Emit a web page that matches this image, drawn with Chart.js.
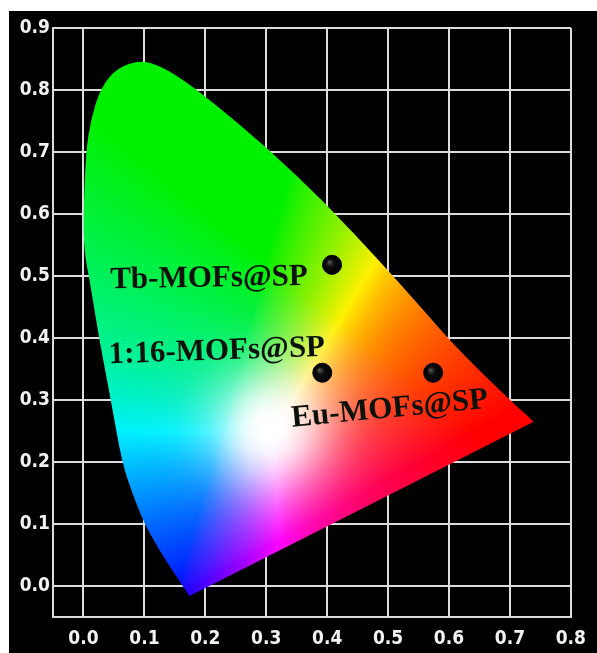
<!DOCTYPE html>
<html>
<head>
<meta charset="utf-8">
<script src="https://cdn.jsdelivr.net/npm/chart.js@4.4.0/dist/chart.umd.min.js"></script>
<style>
  html, body { margin: 0; padding: 0; background: #fff; }
  canvas { display: block; }
</style>
</head>
<body>
<canvas id="myChart" width="597" height="653"></canvas>
<script>
// tick values
const xTicks = [0.0, 0.1, 0.2, 0.3, 0.4, 0.5, 0.6, 0.7, 0.8];
const yTicks = [0.0, 0.1, 0.2, 0.3, 0.4, 0.5, 0.6, 0.7, 0.8, 0.9];

// outline of the colour region (blue corner -> left side -> top -> red corner)
const locusX = [0.174, 0.135, 0.100, 0.080, 0.063, 0.045, 0.026, 0.010, 0.001, 0.000, 0.004, 0.012, 0.028, 0.055, 0.094, 0.123, 0.155, 0.200, 0.300, 0.397, 0.489, 0.560, 0.611, 0.700, 0.739];
const locusY = [-0.016, 0.040, 0.100, 0.150, 0.200, 0.300, 0.397, 0.494, 0.540, 0.600, 0.700, 0.752, 0.803, 0.836, 0.848, 0.840, 0.822, 0.790, 0.708, 0.618, 0.521, 0.443, 0.385, 0.300, 0.265];

// samples
const sampleNames = ['Tb-MOFs@SP', '1:16-MOFs@SP', 'Eu-MOFs@SP'];
const sampleX = [0.408, 0.392, 0.574];
const sampleY = [0.518, 0.344, 0.344];

const gridColor = '#dcdcdc';
const tickFont = { family: '"DejaVu Sans Condensed", "DejaVu Sans", sans-serif', weight: 'bold', size: 19 };

function xyToRgb(x, y) {
    // chromaticity -> rough sRGB, shifted so the white spot sits where the picture has it
    const d2 = (x - 0.305) * (x - 0.305) + (y - 0.255) * (y - 0.255);
    const fade = Math.exp(-d2 / (0.085 * 0.085));
    y += 0.08;
    if (y < 0.01) y = 0.01;
    let X = x / y, Y = 1, Z = (1 - x - y) / y;
    let r = 3.2406 * X - 1.5372 * Y - 0.4986 * Z;
    let g = -0.9689 * X + 1.8758 * Y + 0.0415 * Z;
    let b = 0.0557 * X - 0.2040 * Y + 1.0570 * Z;
    r = Math.max(r, 0); g = Math.max(g, 0); b = Math.max(b, 0);
    let m = Math.max(r, g, b) || 1;
    return [r / m, g / m * 0.93, b / m].map(v => {
        v = v * (1 - fade) + fade;
        return Math.round(255 * Math.pow(v, 0.8));
    });
}

function locusPath(ctx, xs, ys) {
    let pts = locusX.map((v, i) => [xs.getPixelForValue(v), ys.getPixelForValue(locusY[i])]);
    ctx.beginPath();
    ctx.moveTo(pts[0][0], pts[0][1]);
    // smooth curve through the middle of each segment
    for (let i = 1; i < pts.length - 1; i++) {
        let mx = (pts[i][0] + pts[i + 1][0]) / 2;
        let my = (pts[i][1] + pts[i + 1][1]) / 2;
        ctx.quadraticCurveTo(pts[i][0], pts[i][1], mx, my);
    }
    ctx.lineTo(pts[pts.length - 1][0], pts[pts.length - 1][1]);
    ctx.closePath();
}

const backdrop = {
    id: 'backdrop',
    beforeDraw(chart) {
        const ctx = chart.ctx;
        ctx.save();
        ctx.fillStyle = '#ffffff';
        ctx.fillRect(0, 0, chart.width, chart.height);
        ctx.fillStyle = '#000000';
        ctx.fillRect(9, 11, chart.width - 9, chart.height - 11);
        ctx.restore();
    }
};

const colourRegion = {
    id: 'colourRegion',
    beforeDatasetsDraw(chart) {
        const ctx = chart.ctx;
        const area = chart.chartArea;
        const xs = chart.scales.x, ys = chart.scales.y;
        const w = Math.ceil(area.right - area.left), h = Math.ceil(area.bottom - area.top);
        const off = document.createElement('canvas');
        off.width = w; off.height = h;
        const octx = off.getContext('2d');
        const img = octx.createImageData(w, h);
        for (let py = 0; py < h; py++) {
            const yv = ys.getValueForPixel(area.top + py + 0.5);
            for (let px = 0; px < w; px++) {
                const xv = xs.getValueForPixel(area.left + px + 0.5);
                const [r, g, b] = xyToRgb(xv, yv);
                const k = (py * w + px) * 4;
                img.data[k] = r; img.data[k + 1] = g; img.data[k + 2] = b; img.data[k + 3] = 255;
            }
        }
        octx.putImageData(img, 0, 0);
        ctx.save();
        locusPath(ctx, xs, ys);
        ctx.clip();
        ctx.drawImage(off, area.left, area.top);
        ctx.restore();
    },
    afterDatasetsDraw(chart) {
        const ctx = chart.ctx;
        const meta = chart.getDatasetMeta(1);
        // little highlight on the black balls
        meta.data.forEach(pt => {
            ctx.save();
            const grd = ctx.createRadialGradient(pt.x - 3, pt.y - 3, 0, pt.x, pt.y, 9);
            grd.addColorStop(0, 'rgba(110,110,110,0.9)');
            grd.addColorStop(0.45, 'rgba(20,20,20,0.6)');
            grd.addColorStop(1, 'rgba(0,0,0,0)');
            ctx.fillStyle = grd;
            ctx.beginPath();
            ctx.arc(pt.x, pt.y, 8, 0, Math.PI * 2);
            ctx.fill();
            ctx.restore();
        });
        // sample names
        const place = [
            { dx: -24, dy: 20, align: 'right', rot: -1 },
            { dx: 3, dy: -17, align: 'right', rot: -2 },
            { dx: -141, dy: 54, align: 'left', rot: -5.5 }
        ];
        ctx.save();
        ctx.font = 'bold 31px "Liberation Serif", "Times New Roman", serif';
        ctx.fillStyle = '#0a120a';
        ctx.textBaseline = 'alphabetic';
        meta.data.forEach((pt, i) => {
            const p = place[i];
            ctx.save();
            ctx.translate(pt.x + p.dx, pt.y + p.dy);
            ctx.rotate(p.rot * Math.PI / 180);
            ctx.textAlign = p.align;
            ctx.fillText(sampleNames[i], 0, 0);
            ctx.restore();
        });
        ctx.restore();
    }
};

const canvas = document.getElementById('myChart');
const myChart = new Chart(canvas, {
    type: 'scatter',
    data: {
        datasets: [
            {
                label: 'outline',
                data: locusX.map((v, i) => ({ x: v, y: locusY[i] })),
                pointRadius: 0,
                showLine: false
            },
            {
                label: 'samples',
                data: sampleX.map((v, i) => ({ x: v, y: sampleY[i] })),
                pointRadius: 9.5,
                backgroundColor: '#050505',
                borderColor: '#000000',
                borderWidth: 1
            }
        ]
    },
    options: {
        responsive: false,
        animation: false,
        layout: { padding: { top: 28, right: 17, left: 0, bottom: 0 } },
        plugins: {
            legend: { display: false },
            tooltip: { enabled: false }
        },
        scales: {
            x: {
                type: 'linear',
                min: -0.05,
                max: 0.8,
                afterBuildTicks: s => { s.ticks = xTicks.map(v => ({ value: v })); },
                afterFit: s => { s.height = 36; },
                grid: { color: gridColor, lineWidth: 2, drawTicks: false },
                border: { color: gridColor, width: 2 },
                ticks: {
                    color: '#f2f2f2',
                    font: tickFont,
                    padding: 11,
                    maxRotation: 0,
                    autoSkip: false,
                    callback: v => v.toFixed(1)
                }
            },
            y: {
                type: 'linear',
                min: -0.05,
                max: 0.9,
                afterBuildTicks: s => { s.ticks = yTicks.map(v => ({ value: v })); },
                afterFit: s => { s.width = 53; },
                grid: { color: gridColor, lineWidth: 2, drawTicks: false },
                border: { color: gridColor, width: 2 },
                ticks: {
                    color: '#f2f2f2',
                    font: tickFont,
                    padding: 3,
                    autoSkip: false,
                    callback: v => v.toFixed(1)
                }
            }
        }
    },
    plugins: [backdrop, colourRegion]
});
</script>
</body>
</html>
